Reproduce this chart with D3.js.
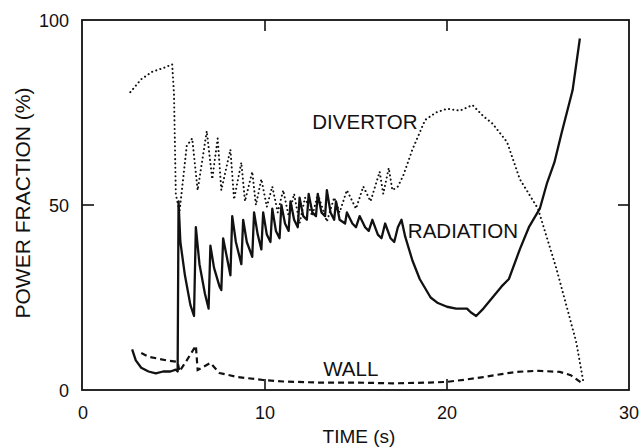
<!DOCTYPE html>
<html>
<head>
<meta charset="utf-8">
<script src="https://cdn.jsdelivr.net/npm/d3@7"></script>
<style>
  body { margin: 0; background: #fff; }
  svg text { font-family: "Liberation Sans", Arial, Helvetica, sans-serif; fill: #111; }
</style>
</head>
<body>
<div class="chart"></div>
<script>
// values: time (s) and power fraction (%)
const radiationT = [2.7, 2.9, 3.2, 3.6, 4.0, 4.4, 4.8, 5.1, 5.2, 5.25, 5.35, 5.6, 5.9, 6.1, 6.2, 6.4, 6.7, 6.9, 7.0, 7.2, 7.5, 7.6, 7.7, 7.9, 8.1, 8.2, 8.4, 8.7, 8.8, 9.0, 9.3, 9.4, 9.6, 9.8, 9.9, 10.1, 10.3, 10.4, 10.6, 10.8, 10.9, 11.1, 11.3, 11.4, 11.6, 11.8, 11.9, 12.1, 12.3, 12.4, 12.6, 12.8, 12.9, 13.1, 13.3, 13.4, 13.6, 13.8, 13.9, 14.1, 14.4, 14.5, 14.8, 15.0, 15.2, 15.5, 15.7, 15.9, 16.2, 16.4, 16.6, 16.9, 17.1, 17.3, 17.5, 17.7, 18.1, 18.5, 19.1, 19.5, 20.0, 20.5, 21.1, 21.3, 21.6, 22.0, 22.5, 23.0, 23.4, 24.0, 24.5, 25.1, 25.5, 25.9, 26.3, 26.9, 27.3];
const radiationV = [11, 8, 6, 5, 4.5, 5, 5, 5.5, 5, 51, 40, 31, 23, 20, 44, 34, 26, 22, 39, 33, 28, 27, 41, 36, 31, 47, 40, 34, 46, 40, 36, 48, 42, 38, 48, 42, 40, 49, 43, 41, 50, 45, 43, 51, 46, 44, 52, 47, 46, 53, 48, 47, 53, 48, 47, 54, 48, 46, 51, 46, 45, 48, 45, 44, 47, 44, 43, 46, 42, 41, 45, 41, 40, 44, 46, 41.5, 35, 30, 25, 23.5, 22.5, 22, 22, 21, 20, 22, 25, 28, 30, 38, 44, 49, 56, 61.5, 69.5, 81, 95];

const divertorT = [2.6, 3.2, 3.8, 4.4, 4.9, 5.0, 5.1, 5.3, 5.7, 6.0, 6.3, 6.8, 7.1, 7.4, 7.6, 8.1, 8.3, 8.7, 8.9, 9.3, 9.5, 9.8, 10.1, 10.4, 10.7, 11.0, 11.3, 11.6, 11.9, 12.2, 12.6, 12.9, 13.4, 13.8, 14.1, 14.5, 15.0, 15.4, 15.8, 16.3, 16.5, 16.8, 17.0, 17.3, 17.6, 18.1, 18.8, 19.4, 20.0, 20.7, 21.4, 22.0, 22.5, 23.3, 24.0, 25.0, 26.0, 27.1, 27.5];
const divertorV = [80.5, 84, 86, 87, 88, 80, 53, 48, 66, 68, 54, 70, 57, 68, 54, 65, 51.5, 61.5, 51, 59, 50, 57, 49.5, 55, 48, 54, 47, 53, 45, 52, 47, 53, 45.5, 52, 48, 54, 49, 55, 51, 59, 53, 60, 54, 55, 58, 65, 73, 75, 76, 75.5, 77, 74, 72, 67, 57, 49, 33, 13, 2];

const wallT = [3.2, 3.6, 4.1, 4.6, 5.2, 5.3, 5.7, 6.2, 6.3, 7.0, 7.5, 8.5, 9.9, 11, 13, 15, 17, 19, 20, 21, 22, 23, 23.8, 25, 26.2, 26.8, 27.4];
const wallV = [10, 9, 8.5, 8, 7.6, 5, 8, 12, 5.4, 7.3, 4.6, 3.5, 2.7, 2.3, 2, 2, 1.8, 2, 2.2, 2.8, 3.5, 4.3, 4.9, 5.2, 4.9, 4, 1.9];

const xTicks = [0, 10, 20, 30];
const yTicks = [0, 50, 100];

const labels = [
  { text: 'DIVERTOR', t: 12.6, v: 70.5 },
  { text: 'RADIATION', t: 17.85, v: 41.2 },
  { text: 'WALL', t: 13.2, v: 3.8 }
];

const W = 643, H = 448;
const margin = { top: 20, right: 14, bottom: 58, left: 83 };

const svg = d3.select('.chart')
  .append('svg')
  .attr('width', W)
  .attr('height', H);

const x = d3.scaleLinear()
  .domain([0, 30])
  .range([margin.left, W - margin.right]);

const y = d3.scaleLinear()
  .domain([0, 100])
  .range([H - margin.bottom, margin.top]);

const zip = (ts, vs) => ts.map((t, i) => [t, vs[i]]);

const line = d3.line()
  .x(d => x(d[0]))
  .y(d => y(d[1]));

// frame
svg.append('rect')
  .attr('x', x(0) - 1)
  .attr('y', y(100))
  .attr('width', x(30) - x(0) + 1)
  .attr('height', y(0) - y(100))
  .attr('fill', 'none')
  .attr('stroke', '#111')
  .attr('stroke-width', 1.8);

// inward ticks on all sides
const tickLen = 11;
const inner = [10, 20];
inner.forEach(t => {
  svg.append('line').attr('x1', x(t)).attr('x2', x(t))
    .attr('y1', y(0)).attr('y2', y(0) - tickLen)
    .attr('stroke', '#111').attr('stroke-width', 1.6);
  svg.append('line').attr('x1', x(t)).attr('x2', x(t))
    .attr('y1', y(100)).attr('y2', y(100) + tickLen)
    .attr('stroke', '#111').attr('stroke-width', 1.6);
});
svg.append('line').attr('x1', x(0) - 1).attr('x2', x(0) + tickLen)
  .attr('y1', y(50)).attr('y2', y(50))
  .attr('stroke', '#111').attr('stroke-width', 1.6);
svg.append('line').attr('x1', x(30)).attr('x2', x(30) - tickLen)
  .attr('y1', y(50)).attr('y2', y(50))
  .attr('stroke', '#111').attr('stroke-width', 1.6);

// tick labels
svg.selectAll('.xt')
  .data(xTicks)
  .enter()
  .append('text')
  .attr('class', 'xt')
  .attr('x', d => x(d))
  .attr('y', y(0) + 29)
  .attr('text-anchor', 'middle')
  .style('font-size', '18px')
  .text(d => d);

svg.selectAll('.yt')
  .data(yTicks)
  .enter()
  .append('text')
  .attr('class', 'yt')
  .attr('x', x(0) - 14)
  .attr('y', d => y(d) + 7)
  .attr('text-anchor', 'end')
  .style('font-size', '18px')
  .text(d => d);

// axis titles
svg.append('text')
  .attr('x', 359)
  .attr('y', 443)
  .attr('text-anchor', 'middle')
  .style('font-size', '19px')
  .text('TIME (s)');

svg.append('text')
  .attr('transform', 'translate(30,' + 203 + ') rotate(-90)')
  .attr('text-anchor', 'middle')
  .style('font-size', '21px')
  .text('POWER FRACTION (%)');

// series
svg.append('path')
  .attr('d', line(zip(divertorT, divertorV)))
  .attr('fill', 'none')
  .attr('stroke', '#111')
  .attr('stroke-width', 2)
  .attr('stroke-linecap', 'round')
  .attr('stroke-dasharray', '0.1,4.2');

svg.append('path')
  .attr('d', line(zip(wallT, wallV)))
  .attr('fill', 'none')
  .attr('stroke', '#111')
  .attr('stroke-width', 2.2)
  .attr('stroke-dasharray', '6,4');

svg.append('path')
  .attr('d', line(zip(radiationT, radiationV)))
  .attr('fill', 'none')
  .attr('stroke', '#111')
  .attr('stroke-width', 2.3)
  .attr('stroke-linejoin', 'round');

// curve labels
svg.selectAll('.lab')
  .data(labels)
  .enter()
  .append('text')
  .attr('class', 'lab')
  .attr('x', d => x(d.t))
  .attr('y', d => y(d.v))
  .style('font-size', '20.5px')
  .text(d => d.text);
</script>
</body>
</html>
